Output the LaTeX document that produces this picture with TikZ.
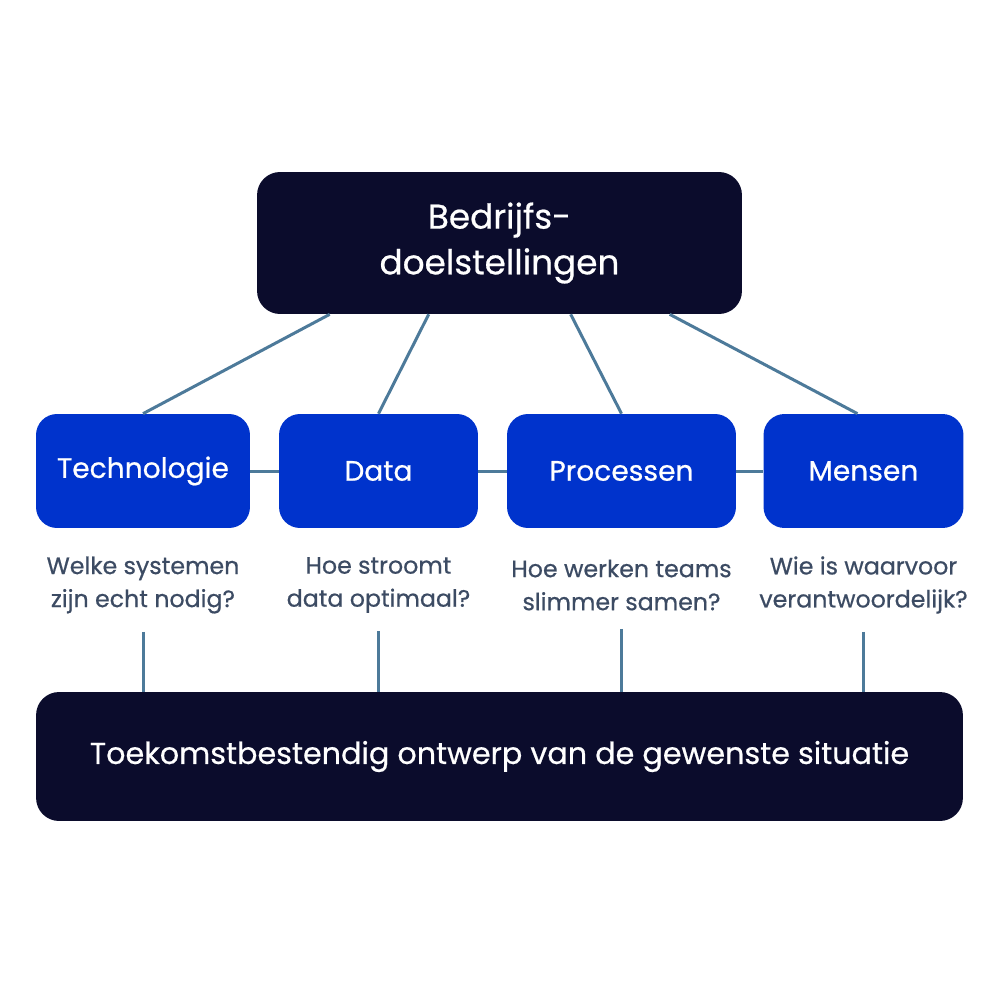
\documentclass[tikz,border=0pt]{standalone}
\usepackage{fontspec}
\setmainfont{Poppins}[BoldFont=Poppins, BoldFeatures={FakeBold=0.6}]
\definecolor{navy}{HTML}{0B0C2C}
\definecolor{royal}{HTML}{0033CC}
\definecolor{steel}{HTML}{4D7A9A}
\definecolor{slate}{HTML}{3C4B63}
\begin{document}
\begin{tikzpicture}[x=0.02cm,y=-0.02cm]
\tikzstyle{darkbox}=[fill=navy, rounded corners=0.46cm, text=white, align=center, inner sep=0pt]
\tikzstyle{bluebox}=[fill=royal, rounded corners=0.42cm, text=white, minimum height=2.28cm, inner sep=0pt, font=\fontsize{16}{19}\selectfont\bfseries]
\tikzstyle{question}=[text=slate, align=center, inner sep=0pt, font=\fontsize{13.5}{18.8}\selectfont\bfseries]
\tikzstyle{link}=[steel, line width=0.06cm]
\useasboundingbox (0,0) rectangle (1000,1000);
% top and bottom
\node [darkbox, minimum width=9.7cm, minimum height=2.84cm, font=\fontsize{19.5}{26}\selectfont\bfseries] (goal) at (499.5,243) {Bedrijfs-\\doelstellingen};
\node [darkbox, minimum width=18.54cm, minimum height=2.58cm, font=\fontsize{17.2}{19}\selectfont\bfseries] (future) at (499.5,756.5) {Toekomstbestendig ontwerp van de gewenste situatie};
% four pillars
\node [bluebox, minimum width=4.28cm] (tech) at (143,471) {Technologie};
\node [bluebox, minimum width=3.98cm] (data) at (378.5,471) {Data};
\node [bluebox, minimum width=4.58cm] (proc) at (621.5,471) {Processen};
\node [bluebox, minimum width=4.0cm] (people) at (863.5,471) {Mensen};
% questions
\node [question] (qtech) at (143,585) {Welke systemen\\zijn echt nodig?};
\node [question] (qdata) at (378.5,585) {Hoe stroomt\\data optimaal?};
\node [question] (qproc) at (621.5,585) {Hoe werken teams\\slimmer samen?};
\node [question] (qpeople) at (863.5,585) {Wie is waarvoor\\verantwoordelijk?};
% links
\draw [link] (goal.south west)++(73,0) -- (tech.north);
\draw [link] (goal.south west)++(172,0) -- (data.north);
\draw [link] (goal.south west)++(314,0) -- (proc.north);
\draw [link] (goal.south west)++(413,0) -- ([xshift=-0.12cm]people.north);
\draw [link] (tech) -- (data);
\draw [link] (data) -- (proc);
\draw [link] (proc) -- (people);
\draw [link] (qtech.south)++(0,18) -- (qtech.south |- future.north);
\draw [link] (qdata.south)++(0,18) -- (qdata.south |- future.north);
\draw [link] (qproc.south)++(0,18) -- (qproc.south |- future.north);
\draw [link] (qpeople.south)++(0,18) -- (qpeople.south |- future.north);
\end{tikzpicture}
\end{document}
